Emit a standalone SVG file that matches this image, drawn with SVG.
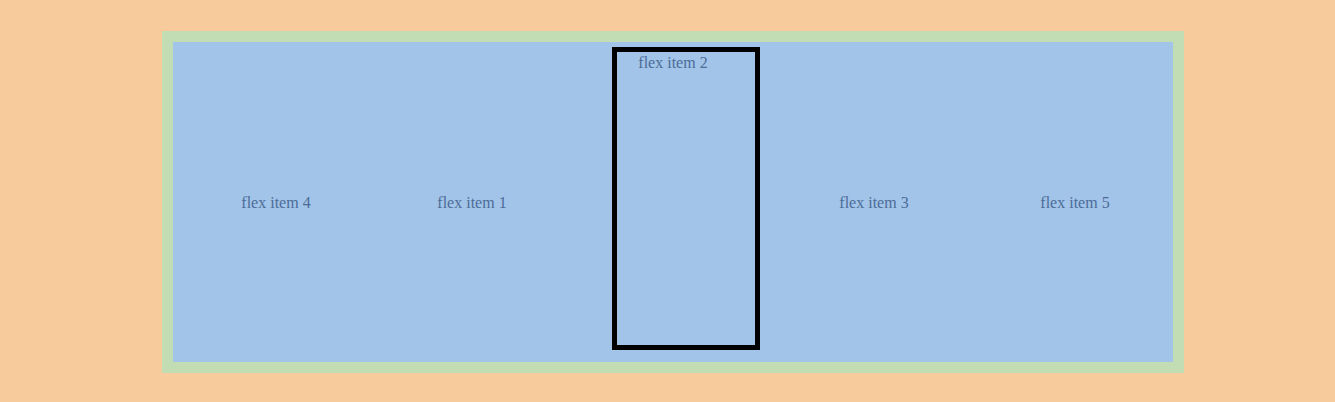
<svg xmlns="http://www.w3.org/2000/svg" width="1335" height="402" viewBox="0 0 1335 402">
<style>
.lbl{font-family:"Liberation Serif","Times New Roman",serif;font-size:16px;fill:#4d6c98;text-anchor:middle}
</style>
<rect x="0" y="0" width="1335" height="402" fill="#f7cb9c"/>
<g id="container">
<rect x="162" y="31" width="1022" height="342" fill="#c2dcb4"/>
<rect x="173" y="42" width="1000" height="320" fill="#a1c4e8"/>
</g>
<g id="item4"><text class="lbl" x="276" y="208">flex item 4</text></g>
<g id="item1"><text class="lbl" x="472" y="208">flex item 1</text></g>
<g id="item2">
<rect x="614.5" y="49.5" width="143" height="298" fill="none" stroke="#000" stroke-width="5"/>
<text class="lbl" x="673" y="68">flex item 2</text>
</g>
<g id="item3"><text class="lbl" x="874" y="208">flex item 3</text></g>
<g id="item5"><text class="lbl" x="1075" y="208">flex item 5</text></g>
<g id="connectors"></g>
</svg>
